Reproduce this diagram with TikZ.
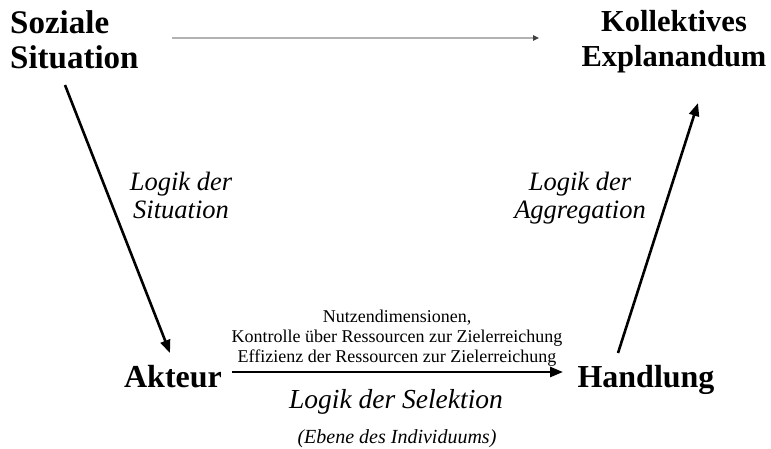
\documentclass[tikz,border=0pt]{standalone}
\usepackage{fontspec}
\setmainfont{Liberation Serif}[ItalicFont={Liberation Serif Italic}, BoldFont={Liberation Serif Bold}]
\usetikzlibrary{arrows.meta}
\tikzset{
  title/.style={inner sep=0pt, font=\bfseries\fontsize{32}{35}\selectfont},
  logic/.style={inner sep=0pt, align=center, font=\itshape\fontsize{26.5}{28}\selectfont},
  small/.style={inner sep=0pt, align=center, font=\fontsize{18}{20}\selectfont},
  bigarrow/.style={line width=2.6pt, -{Triangle[length=13pt,width=10pt]}},
  grayarrow/.style={line width=1.4pt, color=black!30, -{Triangle[length=6pt,width=5.5pt,color=black!75]}}
}
\begin{document}
\begin{tikzpicture}[x=1pt,y=-1pt]
\useasboundingbox (0,0) rectangle (771,448);
% titles
\node[title, font=\bfseries\fontsize{33}{35}\selectfont, align=left, anchor=north west] (sit) at (10,10) {Soziale\\Situation};
\node[title, font=\bfseries\fontsize{30.5}{35}\selectfont, align=center, anchor=north] (expl) at (674,10) {Kollektives\\Explanandum};
\node[title, anchor=base] (akt) at (173,387) {Akteur};
\node[title, anchor=base] (hand) at (646,387) {Handlung};
% connector end points
\coordinate (s1) at (65,85);
\coordinate (s2) at (170,353);
\coordinate (a1) at (618,353);
\coordinate (a2) at (698,103);
\coordinate (h1) at (232,372);
\coordinate (h2) at (563,372);
\coordinate (g1) at (172,38);
\coordinate (g2) at (539,38);
% arrows
\draw[grayarrow] (g1) -- (g2);
\draw[bigarrow] (s1) -- (s2);
\draw[bigarrow] (a1) -- (a2);
\draw[bigarrow] (h1) -- (h2);
% labels
\node[logic, anchor=north] (lsit) at (181,172) {Logik der\\Situation};
\node[logic, anchor=north] (lagg) at (580,172) {Logik der\\Aggregation};
\node[small, anchor=base] (n1) at (397,322) {Nutzendimensionen,};
\node[small, anchor=base] (n2) at (397,342) {Kontrolle über Ressourcen zur Zielerreichung};
\node[small, anchor=base] (n3) at (397,362) {Effizienz der Ressourcen zur Zielerreichung};
\node[inner sep=0pt, anchor=base, font=\itshape\fontsize{27.5}{28}\selectfont] (lsel) at (396,408) {Logik der Selektion};
\node[inner sep=0pt, anchor=base, font=\itshape\fontsize{20}{22}\selectfont] (ebene) at (397,443) {(Ebene des Individuums)};
\end{tikzpicture}
\end{document}
